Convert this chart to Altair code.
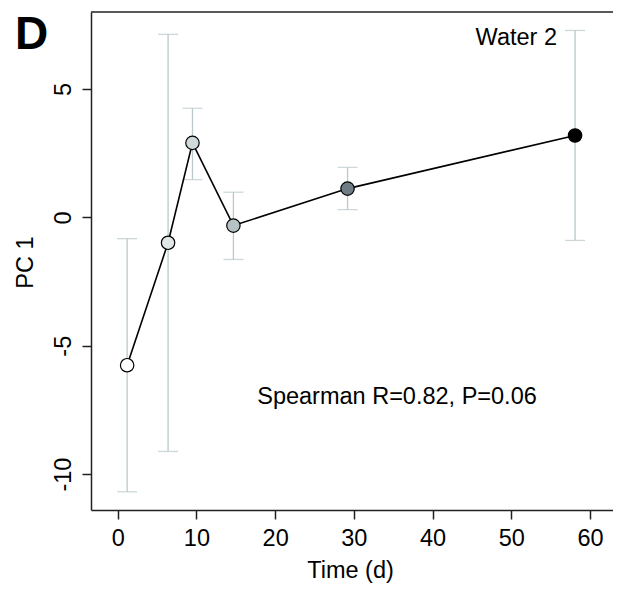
import altair as alt
import pandas as pd

# ---- data ----
days = [1.2, 6.4, 9.5, 14.7, 29.2, 58.1]
pc1 = [-5.76, -0.99, 2.90, -0.32, 1.12, 3.19]
upper = [-0.83, 7.13, 4.25, 0.98, 1.95, 7.28]
lower = [-10.69, -9.12, 1.47, -1.64, 0.30, -0.90]
fills = ["#ffffff", "#e1e7e7", "#d0d9d9", "#b6c3c4", "#6d7d83", "#000000"]
x_ticks = [0, 10, 20, 30, 40, 50, 60]
y_ticks = [-10, -5, 0, 5]
panel_label = ["D"]
series_label = ["Water 2"]
stat_label = ["Spearman R=0.82, P=0.06"]

df = pd.DataFrame({"day": days, "pc1": pc1, "hi": upper, "lo": lower, "fill": fills})

W, H = 522, 498
FONT = "Liberation Sans"
FS = 23.5
EB = "#b9c8cb"
FRAME = "#222222"

x_scale = alt.Scale(domain=[-3.39, 62.92], nice=False, zero=False)
y_scale = alt.Scale(domain=[-11.4, 8.0], nice=False, zero=False)

x_axis = alt.Axis(values=x_ticks, title="Time (d)", labelPadding=7,
                  labelExpr="datum.value + ''",
                  titleX=259, titleY=67, titleBaseline="alphabetic",
                  titleAnchor="middle", titleAlign="center")
y_axis = alt.Axis(values=y_ticks, title="PC 1", labelAngle=-90, labelAlign="center",
                  labelExpr="datum.value + ''",
                  labelBaseline="alphabetic", labelPadding=12,
                  titleX=-59, titleY=250, titleAngle=-90, titleAlign="center",
                  titleBaseline="alphabetic")

X = alt.X("day:Q", scale=x_scale, axis=x_axis)


def Y(field):
    return alt.Y(field, type="quantitative", scale=y_scale, axis=y_axis)


base = alt.Chart(df)

bars = base.mark_rule(color=EB, strokeWidth=1.3).encode(x=X, y=Y("lo"), y2="hi:Q")
cap_hi = base.mark_tick(color=EB, orient="horizontal", size=20, thickness=1.3).encode(x=X, y=Y("hi"))
cap_lo = base.mark_tick(color=EB, orient="horizontal", size=20, thickness=1.3).encode(x=X, y=Y("lo"))
line = base.mark_line(color="black", strokeWidth=1.6).encode(x=X, y=Y("pc1"))
pts = base.mark_circle(size=180, stroke="black", strokeWidth=1.2, opacity=1).encode(
    x=X, y=Y("pc1"), fill=alt.Fill("fill:N", scale=None)
)

top = alt.Chart(pd.DataFrame({"a": [0]})).mark_rule(color=FRAME, strokeWidth=1.5).encode(
    x=alt.value(0), x2=alt.value(W), y=alt.value(0)
)

lab_d = alt.Chart(pd.DataFrame({"t": panel_label})).mark_text(
    font=FONT, fontSize=46, fontWeight="bold", align="left", baseline="alphabetic", color="black"
).encode(x=alt.value(-76), y=alt.value(37), text="t:N")

lab_w = alt.Chart(pd.DataFrame({"t": series_label})).mark_text(
    font=FONT, fontSize=FS, align="right", baseline="alphabetic", color="black"
).encode(x=alt.value(466), y=alt.value(32.5), text="t:N")

lab_s = alt.Chart(pd.DataFrame({"t": stat_label})).mark_text(
    font=FONT, fontSize=FS, align="center", baseline="alphabetic", color="black"
).encode(x=alt.value(306), y=alt.value(392), text="t:N")

chart = (
    alt.layer(bars, cap_hi, cap_lo, line, pts, top, lab_d, lab_w, lab_s)
    .properties(
        width=W, height=H,
        autosize=alt.AutoSizeParams(type="none"),
        padding={"left": 83, "top": 4, "right": 0, "bottom": 74},
        background="white",
    )
    .configure_view(stroke=None)
    .configure_axis(
        grid=False,
        domainColor=FRAME, domainWidth=1.5,
        tickColor=FRAME, tickWidth=1.5, tickSize=9,
        labelFont=FONT, labelFontSize=FS, labelColor="black",
        titleFont=FONT, titleFontSize=FS, titleFontWeight="normal", titleColor="black",
    )
)

chart.save("out.html", embed_options={"renderer": "svg", "actions": False})
